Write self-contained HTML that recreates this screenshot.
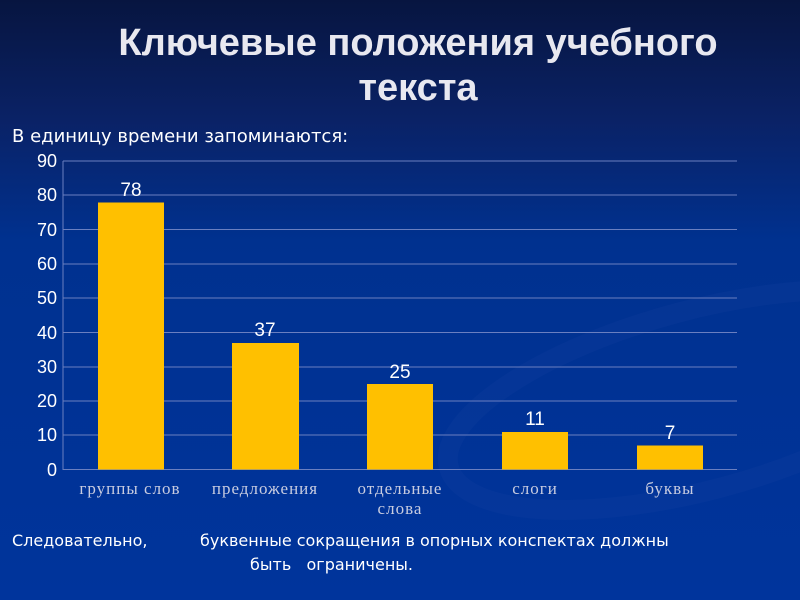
<!DOCTYPE html>
<html><head><meta charset="utf-8"><style>
body{margin:0;width:800px;height:600px;overflow:hidden;background:linear-gradient(180deg,#071540 0%,#0a2266 20%,#00318f 40%,#00349c 100%);font-family:"Liberation Sans","Noto Sans CJK SC",sans-serif;}
</style></head><body>
<svg width="800" height="600" xmlns="http://www.w3.org/2000/svg" style="position:absolute;left:0;top:0">
<ellipse cx="700" cy="400" rx="260" ry="90" fill="none" stroke="#2a4fb0" stroke-width="20" opacity="0.12" transform="rotate(-15 700 400)"/>
<text x="418" y="55" font-size="38" font-weight="bold" fill="#e8e8f0" text-anchor="middle" font-family="Liberation Sans, sans-serif">Ключевые положения учебного</text>
<text x="418" y="100" font-size="38" font-weight="bold" fill="#e8e8f0" text-anchor="middle" font-family="Liberation Sans, sans-serif">текста</text>
<text x="12" y="142" font-size="18" fill="#fff" font-family="DejaVu Sans, sans-serif">В единицу времени запоминаются:</text>
<g stroke="#6a7fc0" stroke-width="1">
<line x1="63" y1="161" x2="737" y2="161"/><line x1="63" y1="195" x2="737" y2="195"/><line x1="63" y1="229.5" x2="737" y2="229.5"/><line x1="63" y1="264" x2="737" y2="264"/><line x1="63" y1="298" x2="737" y2="298"/><line x1="63" y1="332.5" x2="737" y2="332.5"/><line x1="63" y1="367" x2="737" y2="367"/><line x1="63" y1="401" x2="737" y2="401"/><line x1="63" y1="435" x2="737" y2="435"/><line x1="63" y1="469.5" x2="737" y2="469.5"/><line x1="63" y1="161" x2="63" y2="470"/>
</g>
<g fill="#fff" font-size="18" text-anchor="end">
<text x="57" y="167">90</text><text x="57" y="201">80</text><text x="57" y="236">70</text><text x="57" y="270">60</text><text x="57" y="304">50</text><text x="57" y="339">40</text><text x="57" y="373">30</text><text x="57" y="407">20</text><text x="57" y="441">10</text><text x="57" y="476">0</text>
</g>
<g fill="#ffc000">
<rect x="98" y="202.5" width="66" height="267"/>
<rect x="232" y="343" width="67" height="126.5"/>
<rect x="367" y="384" width="66" height="85.5"/>
<rect x="502" y="432" width="66" height="37.5"/>
<rect x="637" y="445.5" width="66" height="24"/>
</g>
<g fill="#fff" font-size="19" text-anchor="middle">
<text x="131" y="196">78</text><text x="265" y="336">37</text><text x="400" y="378">25</text><text x="535" y="425">11</text><text x="670" y="439">7</text>
</g>
<g fill="#c8cce0" font-size="17" text-anchor="middle" font-family="Liberation Serif, serif" letter-spacing="1">
<text x="130" y="494">группы слов</text><text x="265" y="494">предложения</text><text x="400" y="494">отдельные</text><text x="400" y="514">слова</text><text x="535" y="494">слоги</text><text x="670" y="494">буквы</text>
</g>
<text x="12" y="546" font-size="16" fill="#fff" font-family="DejaVu Sans, sans-serif">Следовательно,</text>
<text x="200" y="546" font-size="16" fill="#fff" font-family="DejaVu Sans, sans-serif">буквенные сокращения в опорных конспектах должны</text>
<text x="250" y="570" font-size="16" fill="#fff" font-family="DejaVu Sans, sans-serif" xml:space="preserve">быть   ограничены.</text>
</svg>
</body></html>
